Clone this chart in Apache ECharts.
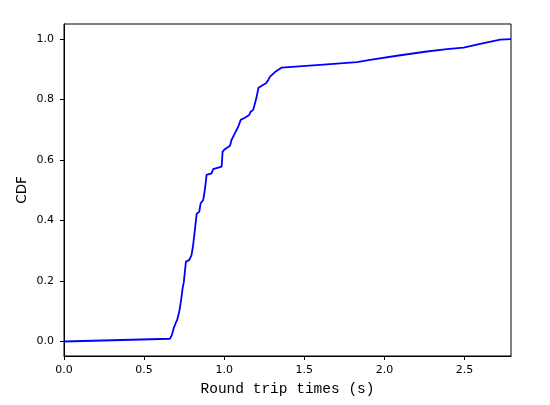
<!DOCTYPE html>
<html>
<head>
<meta charset="utf-8">
<script src="https://cdn.jsdelivr.net/npm/echarts@6/dist/echarts.min.js"></script>
<style>
html,body{margin:0;padding:0;background:#fff;}
#chart{width:550px;height:405px;}
</style>
</head>
<body>
<div id="chart"></div>
<script>
// Round trip times (s)
var rttTimes = [0.0, 0.661, 0.673, 0.686, 0.698, 0.706, 0.719, 0.731, 0.740, 0.748,
  0.761, 0.781, 0.796, 0.806, 0.817, 0.828, 0.844, 0.853, 0.869, 0.879,
  0.890, 0.921, 0.931, 0.984, 0.990, 1.004, 1.036, 1.046, 1.067, 1.088,
  1.103, 1.129, 1.156, 1.165, 1.181, 1.192, 1.203, 1.213, 1.234, 1.261,
  1.275, 1.286, 1.317, 1.359, 1.598, 1.828, 1.911, 2.078, 2.265, 2.390,
  2.494, 2.619, 2.723, 2.79];
// CDF values
var cdfValues = [0.0, 0.009, 0.021, 0.046, 0.062, 0.071, 0.098, 0.137, 0.175, 0.197,
  0.264, 0.269, 0.286, 0.319, 0.369, 0.422, 0.429, 0.457, 0.468, 0.501,
  0.551, 0.556, 0.570, 0.578, 0.628, 0.636, 0.647, 0.667, 0.689, 0.711,
  0.733, 0.740, 0.749, 0.760, 0.766, 0.788, 0.810, 0.838, 0.846, 0.854,
  0.865, 0.876, 0.891, 0.906, 0.915, 0.924, 0.931, 0.945, 0.959, 0.967,
  0.972, 0.987, 0.998, 1.0];
var xTicks = [0.0, 0.5, 1.0, 1.5, 2.0, 2.5];
var yTicks = [0.0, 0.2, 0.4, 0.6, 0.8, 1.0];

var points = rttTimes.map(function (t, i) { return [t, cdfValues[i]]; });

var chart = echarts.init(document.getElementById('chart'));
chart.setOption({
  animation: false,
  backgroundColor: '#fff',
  grid: {
    left: 64, right: 39, top: 24, bottom: 49,
    show: true, borderColor: '#000', borderWidth: 1, backgroundColor: 'transparent'
  },
  xAxis: {
    type: 'value', min: 0, max: 2.79,
    name: 'Round trip times (s)', nameLocation: 'middle', nameGap: 26,
    nameTextStyle: { fontFamily: 'Liberation Mono', fontSize: 14.5, color: '#000' },
    axisLine: { show: true, onZero: false, lineStyle: { color: '#000', width: 1 } },
    axisTick: { show: true, inside: false, length: 4, customValues: xTicks, lineStyle: { color: '#000' } },
    axisLabel: { customValues: xTicks, margin: 9, fontFamily: 'DejaVu Sans', fontSize: 11, color: '#000',
      formatter: function (v) { return v.toFixed(1); } },
    splitLine: { show: false }
  },
  yAxis: {
    type: 'value', min: -0.048, max: 1.05,
    name: 'CDF', nameLocation: 'middle', nameGap: 35, nameMoveOverlap: false,
    nameTextStyle: { fontFamily: 'DejaVu Sans', fontSize: 13.5, color: '#000' },
    axisLine: { show: true, onZero: false, lineStyle: { color: '#000', width: 1 } },
    axisTick: { show: true, inside: false, length: 4, customValues: yTicks, lineStyle: { color: '#000' } },
    axisLabel: { customValues: yTicks, margin: 10, fontFamily: 'DejaVu Sans', fontSize: 11, color: '#000',
      formatter: function (v) { return v.toFixed(1); } },
    splitLine: { show: false }
  },
  series: [{
    type: 'line',
    data: points,
    showSymbol: false,
    symbol: 'none',
    lineStyle: { color: '#0000ff', width: 1.8 },
    clip: true
  }]
});
</script>
</body>
</html>
